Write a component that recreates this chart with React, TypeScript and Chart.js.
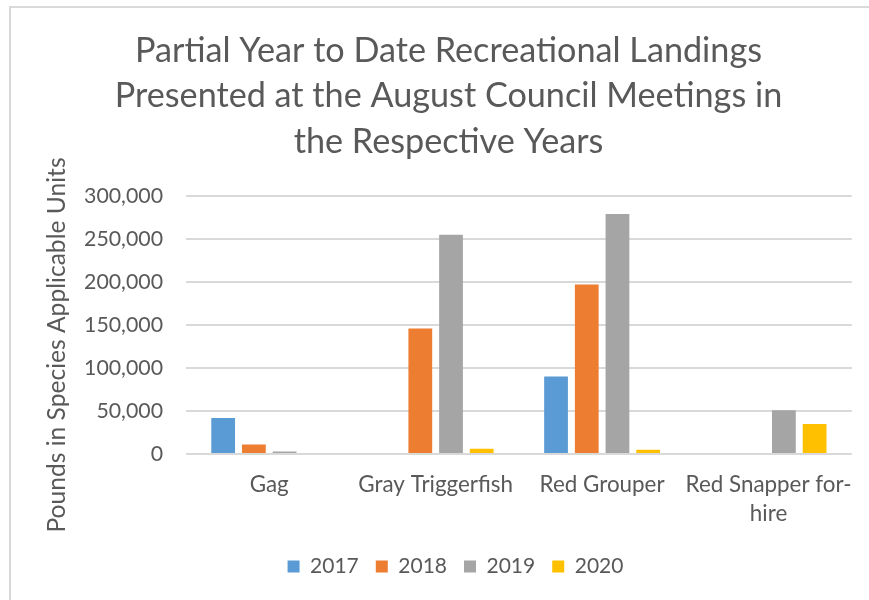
import React, { useEffect, useRef } from "react";
import { Chart, registerables } from "chart.js";

Chart.register(...registerables);

const titleLines = [
  "Partial Year to Date Recreational Landings",
  "Presented at the August Council Meetings in",
  "the Respective Years",
];
const yAxisTitle = "Pounds in Species Applicable Units";
const categories: (string | string[])[] = [
  "Gag",
  "Gray Triggerfish",
  "Red Grouper",
  ["Red Snapper for-", "hire"],
];
const seriesNames = ["2017", "2018", "2019", "2020"];
const values2017 = [42000, 0, 90000, 0];
const values2018 = [11000, 146000, 197000, 0];
const values2019 = [3000, 255000, 279000, 51000];
const values2020 = [0, 6000, 5000, 35000];
const seriesColors = ["#5B9BD5", "#ED7D31", "#A5A5A5", "#FFC000"];
const yMin = 0;
const yMax = 300000;
const yStep = 50000;

const FAMILY = "Lato, 'Open Sans', sans-serif";
const TEXT = "#595959";
const GRID = "#D9D9D9";

function fitSize(text: string, target: number): number {
  const c = document.createElement("canvas").getContext("2d")!;
  c.font = `100px ${FAMILY}`;
  const w = c.measureText(text).width;
  return Math.round((100 * target) / w * 10) / 10;
}

export default function App() {
  const ref = useRef<HTMLCanvasElement>(null);

  useEffect(() => {
    if (!ref.current) return;
    const titleSize = fitSize(titleLines[0], 628);
    const tickSize = fitSize("300,000", 79);
    const catSize = fitSize("Gray Triggerfish", 154.6);
    const legendSize = fitSize("2017", 48.7);
    const axisTitleSize = fitSize(yAxisTitle, 375);

    const yTitlePlugin = {
      id: "yTitle",
      afterDraw(chart: any) {
        const ctx = chart.ctx;
        ctx.save();
        ctx.translate(65, 345);
        ctx.rotate(-Math.PI / 2);
        ctx.font = `${axisTitleSize}px ${FAMILY}`;
        ctx.fillStyle = TEXT;
        ctx.textAlign = "center";
        ctx.textBaseline = "alphabetic";
        ctx.fillText(yAxisTitle, 0, 0);
        ctx.restore();
      },
    };

    const legendShift = {
      id: "legendShift",
      afterLayout(chart: any) {
        const lg = chart.legend;
        if (lg) {
          lg.left += 7;
          lg.right += 7;
        }
      },
    };

    const allValues = [values2017, values2018, values2019, values2020];
    const chart = new Chart(ref.current, {
      type: "bar",
      data: {
        labels: categories,
        datasets: seriesNames.map((name, i) => ({
          label: name,
          data: allValues[i],
          backgroundColor: seriesColors[i],
          borderWidth: 0,
          categoryPercentage: 0.738,
          barPercentage: 0.774,
        })),
      },
      options: {
        responsive: false,
        animation: false,
        layout: { padding: { left: 40, right: 12, top: 0, bottom: 13 } },
        plugins: {
          title: {
            display: true,
            text: titleLines,
            color: TEXT,
            font: { family: FAMILY, size: titleSize, weight: "normal", lineHeight: "45.5px" },
            padding: { top: 28, bottom: 31.5 },
          },
          legend: {
            position: "bottom",
            labels: {
              color: TEXT,
              font: { family: FAMILY, size: legendSize },
              boxWidth: 12,
              boxHeight: 12,
              padding: 17,
            },
          },
          tooltip: { enabled: false },
        },
        scales: {
          x: {
            grid: { display: false, drawTicks: false },
            border: { display: false },
            ticks: {
              color: TEXT,
              font: { family: FAMILY, size: catSize, lineHeight: "29.3px" },
              padding: 16,
              maxRotation: 0,
              autoSkip: false,
            },
            afterFit(scale: any) {
              scale.height = 85;
            },
          },
          y: {
            min: yMin,
            max: yMax,
            grid: { color: GRID, lineWidth: 2, drawTicks: false },
            border: { display: false },
            ticks: {
              stepSize: yStep,
              color: TEXT,
              font: { family: FAMILY, size: tickSize },
              padding: 23,
              callback: (v: any) => Number(v).toLocaleString("en-US"),
            },
            afterFit(scale: any) {
              scale.width = 146;
            },
          },
        },
      },
      plugins: [yTitlePlugin, legendShift],
    });
    return () => chart.destroy();
  }, []);

  return (
    <div
      style={{
        position: "fixed",
        left: 0,
        top: 0,
        width: 869,
        height: 600,
        overflow: "hidden",
        background: "#fff",
      }}
    >
      <div
        style={{
          position: "absolute",
          left: 9,
          top: 6,
          width: 900,
          height: 700,
          borderLeft: `2px solid ${GRID}`,
          borderTop: `2px solid ${GRID}`,
        }}
      />
      <canvas
        ref={ref}
        width={869}
        height={600}
        style={{ position: "absolute", left: 0, top: 0, display: "block" }}
      />
    </div>
  );
}
